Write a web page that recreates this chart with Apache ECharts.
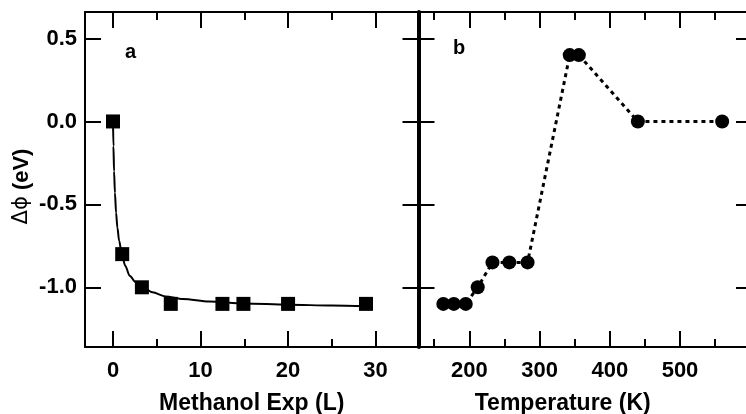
<!DOCTYPE html>
<html>
<head>
<meta charset="utf-8">
<script src="https://cdn.jsdelivr.net/npm/echarts@6/dist/echarts.min.js"></script>
<style>
  html, body { margin: 0; padding: 0; background: #fff; }
  #chart { width: 746px; height: 414px; }
</style>
</head>
<body>
<div id="chart"></div>
<script>
// panel a : methanol exposure (L) vs work function change (eV)
var expPoints = [0, 1.05, 3.3, 6.6, 12.5, 14.9, 20, 28.9];
var expValues = [0.0, -0.8, -1.0, -1.1, -1.1, -1.1, -1.1, -1.1];
// fitted curve
var fitX = [0, 0.05, 0.12, 0.22, 0.35, 0.5, 0.7, 1.0, 1.4, 1.9, 2.6, 3.4, 4.5, 6, 8, 11, 15, 20, 25, 29];
var fitY = [0, -0.15, -0.3, -0.43, -0.55, -0.64, -0.72, -0.8, -0.87, -0.93, -0.97, -1.0, -1.03, -1.055, -1.07, -1.085, -1.097, -1.105, -1.11, -1.115];
// panel b : temperature (K) vs work function change (eV)
var tempPoints = [163, 178, 195, 212, 233, 257, 283, 343, 356, 440, 560];
var tempValues = [-1.1, -1.1, -1.1, -1.0, -0.85, -0.85, -0.85, 0.4, 0.4, 0.0, 0.0];
// tick labels
var yTicks = [0.5, 0.0, -0.5, -1.0];
var xTicksA = [0, 10, 20, 30];
var xMinorA = [5, 15, 25];
var xTicksB = [200, 300, 400, 500];
var xMinorB = [150, 250, 350, 450, 550];

var FONT = 'Liberation Sans';
var yMin = -1.36, yMax = 0.66;

function pairs(xs, ys) {
    var out = [];
    for (var i = 0; i < xs.length; i++) {
        out.push([xs[i], ys[i]]);
    }
    return out;
}

// one x axis of a panel: bottom/top, major/minor
function xAxisOf(grid, min, max, pos, ticks, len, showLabel, lineWidth, name, namePad) {
    return {
        type: 'value',
        gridIndex: grid,
        position: pos,
        min: min,
        max: max,
        name: name || '',
        nameLocation: 'middle',
        nameGap: 45,
        nameTextStyle: {
            color: '#000',
            fontFamily: FONT,
            fontWeight: 'bold',
            fontSize: 23,
            padding: namePad || 0
        },
        splitLine: { show: false },
        axisLine: { show: lineWidth > 0, onZero: false, lineStyle: { color: '#000', width: lineWidth || 0 } },
        axisTick: { show: true, inside: true, length: len, customValues: ticks, lineStyle: { color: '#000', width: 2 } },
        axisLabel: {
            show: showLabel,
            customValues: ticks,
            margin: 13,
            color: '#000',
            fontFamily: FONT,
            fontWeight: 'bold',
            fontSize: 22
        }
    };
}

function yAxisOf(grid, pos, showLabel, lineWidth, name) {
    return {
        type: 'value',
        gridIndex: grid,
        position: pos,
        min: yMin,
        max: yMax,
        name: name || '',
        nameLocation: 'middle',
        nameGap: 52,
        nameTextStyle: {
            color: '#000',
            fontFamily: FONT,
            fontWeight: 'bold',
            fontSize: 22,
            padding: [0, 0, 0, -14],
            rich: {
                s: { fontFamily: 'DejaVu Sans', fontWeight: 'normal', fontSize: 21, color: '#000' }
            }
        },
        splitLine: { show: false },
        axisLine: { show: true, onZero: false, lineStyle: { color: '#000', width: lineWidth } },
        axisTick: { show: true, inside: true, length: 16, customValues: yTicks, lineStyle: { color: '#000', width: 2 } },
        axisLabel: {
            show: showLabel,
            customValues: yTicks,
            margin: 8,
            color: '#000',
            fontFamily: FONT,
            fontWeight: 'bold',
            fontSize: 22,
            formatter: function (v) { return v.toFixed(1); }
        }
    };
}

var option = {
    backgroundColor: '#fff',
    animation: false,
    grid: [
        { left: 85, right: 327.5, top: 12, bottom: 67, outerBoundsMode: 'none' },
        // right border sits just past the picture edge
        { left: 418.5, width: 333.5, top: 12, bottom: 67, outerBoundsMode: 'none' }
    ],
    xAxis: [
        xAxisOf(0, -3.2, 34.9, 'bottom', xTicksA, 16, true, 2, 'Methanol Exp (L)'),
        xAxisOf(0, -3.2, 34.9, 'bottom', xMinorA, 8, false, 0),
        xAxisOf(0, -3.2, 34.9, 'top', xTicksA, 16, false, 2),
        xAxisOf(0, -3.2, 34.9, 'top', xMinorA, 8, false, 0),
        xAxisOf(1, 127.7, 602.5, 'bottom', xTicksB, 16, true, 2, 'Temperature (K)', [0, 45, 0, 0]),
        xAxisOf(1, 127.7, 602.5, 'bottom', xMinorB, 8, false, 0),
        xAxisOf(1, 127.7, 602.5, 'top', xTicksB, 16, false, 2),
        xAxisOf(1, 127.7, 602.5, 'top', xMinorB, 8, false, 0)
    ],
    yAxis: [
        yAxisOf(0, 'left', true, 2, '{s|Δϕ} (eV)'),
        yAxisOf(0, 'right', false, 2),
        yAxisOf(1, 'left', false, 4),
        yAxisOf(1, 'right', false, 2)
    ],
    graphic: [
        { type: 'text', left: 125, top: 42, style: { text: 'a', fill: '#000', font: 'bold 20px "Liberation Sans"' } },
        { type: 'text', left: 453, top: 38, style: { text: 'b', fill: '#000', font: 'bold 20px "Liberation Sans"' } }
    ],
    series: [
        {
            name: 'fit',
            type: 'line',
            xAxisIndex: 0,
            yAxisIndex: 0,
            data: pairs(fitX, fitY),
            showSymbol: false,
            smooth: 0.3,
            smoothMonotone: 'x',
            lineStyle: { color: '#000', width: 2 },
            z: 2
        },
        {
            name: 'exposure',
            type: 'scatter',
            xAxisIndex: 0,
            yAxisIndex: 0,
            data: pairs(expPoints, expValues),
            symbol: 'rect',
            symbolSize: 14,
            itemStyle: { color: '#000', opacity: 1 },
            z: 3
        },
        {
            name: 'temperature',
            type: 'line',
            xAxisIndex: 4,
            yAxisIndex: 2,
            data: pairs(tempPoints, tempValues),
            symbol: 'circle',
            symbolSize: 14,
            showAllSymbol: true,
            itemStyle: { color: '#000', opacity: 1 },
            lineStyle: { color: '#000', width: 3, type: [4, 4] },
            z: 3
        }
    ]
};

var chart = echarts.init(document.getElementById('chart'), null, { renderer: 'canvas' });
chart.setOption(option);
</script>
</body>
</html>
